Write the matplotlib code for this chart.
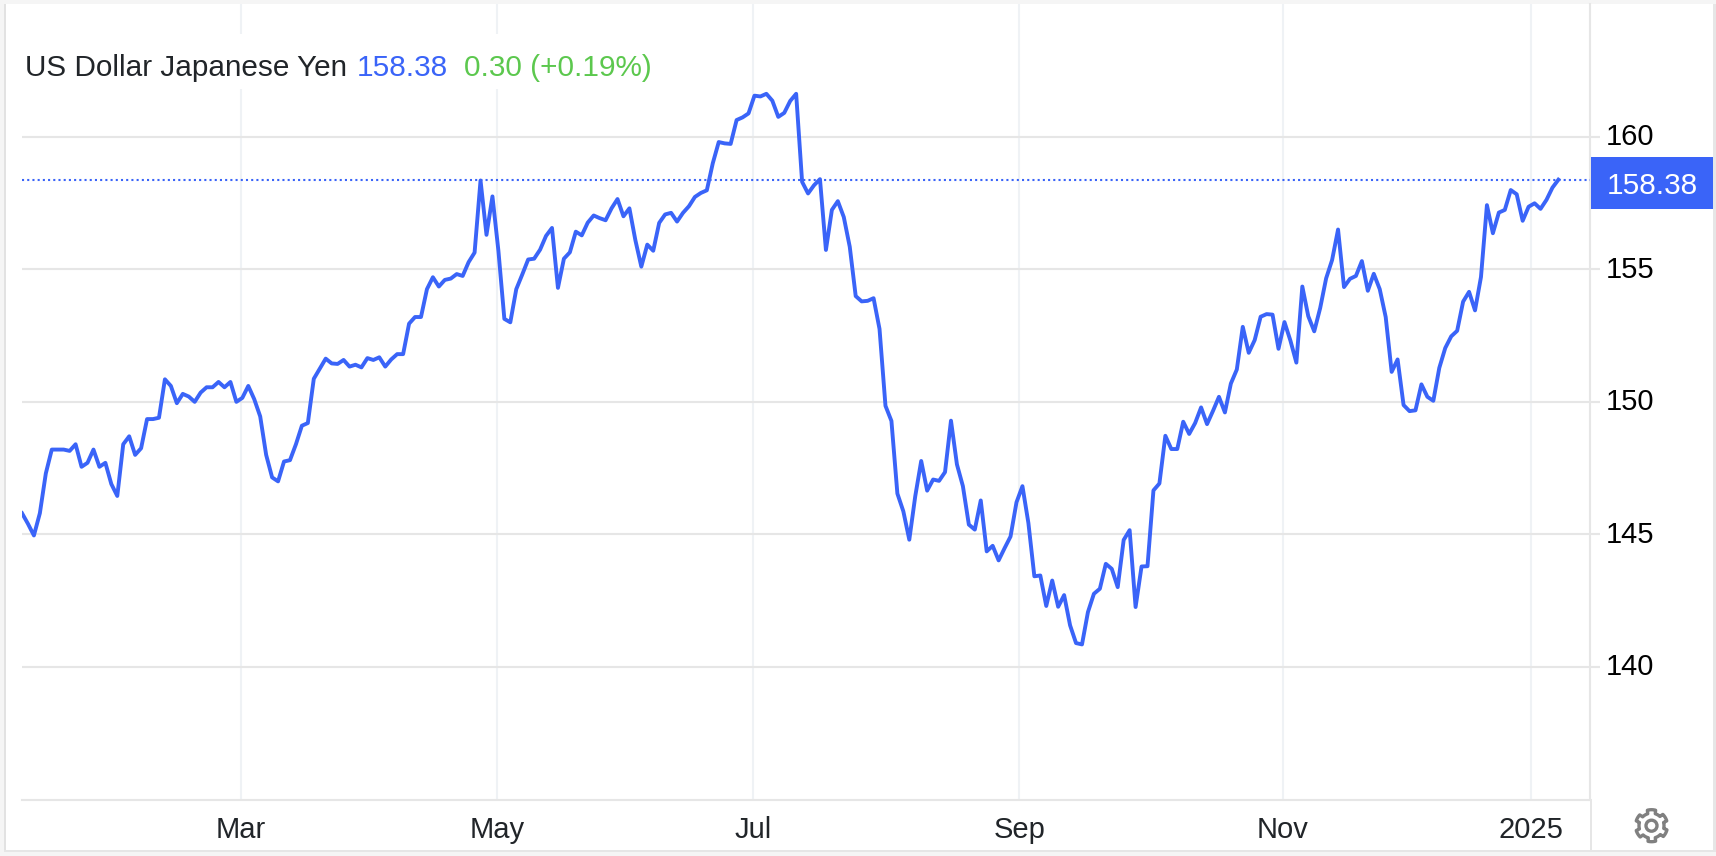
import numpy as np
import matplotlib
matplotlib.use("Agg")
import matplotlib.pyplot as plt
from matplotlib.patches import Rectangle, Polygon, Circle
from matplotlib.transforms import ScaledTranslation

plt.rcParams['font.family'] = ['Liberation Sans', 'DejaVu Sans']

BLUE = '#3a64f8'
GREEN = '#5cc84e'
GRID_H = '#e6e6e6'
GRID_V = '#eff2f5'
DARK = '#212529'

# daily close
usdjpy = [
	145.8, 145.4, 144.96, 145.8, 147.3, 148.2, 148.2, 148.2, 148.15, 148.4,
	147.55, 147.7, 148.2, 147.55, 147.7, 146.9, 146.45, 148.4, 148.7, 148.0,
	148.25, 149.35, 149.35, 149.4, 150.85, 150.6, 149.95, 150.3, 150.2, 150.0,
	150.35, 150.55, 150.55, 150.75, 150.55, 150.75, 150.0, 150.15, 150.6, 150.1,
	149.45, 148.0, 147.15, 147.0, 147.75, 147.8, 148.4, 149.1, 149.2,
	150.87, 151.25, 151.63, 151.45, 151.43, 151.58, 151.33, 151.4, 151.3, 151.65,
	151.58, 151.68, 151.33, 151.6, 151.8, 151.8, 152.95, 153.2, 153.2, 154.25,
	154.7, 154.35, 154.6, 154.65, 154.82, 154.75, 155.27, 155.63, 158.35, 156.3,
	157.75, 155.7, 153.13, 153.0, 154.25, 154.8,
	155.37, 155.4, 155.74, 156.26, 156.56, 154.3, 155.4, 155.64, 156.42, 156.28,
	156.76, 157.03, 156.93, 156.85, 157.3, 157.65, 157.0, 157.3, 156.1, 155.1,
	155.93, 155.7, 156.75, 157.07, 157.13, 156.8, 157.13, 157.38, 157.73, 157.88,
	157.98, 159.0, 159.8, 159.75, 159.73, 160.63, 160.73, 160.88, 161.55, 161.52,
	161.62, 161.36, 160.75, 160.9, 161.35, 161.62, 158.3, 157.86, 158.17, 158.4,
	155.73, 157.24, 157.57, 156.97, 155.85,
	153.99, 153.79, 153.81, 153.91, 152.75, 149.85, 149.28, 146.54, 145.87, 144.8,
	146.44, 147.77, 146.65, 147.07, 147.02, 147.35, 149.29, 147.64, 146.82, 145.37,
	145.18, 146.28, 144.36, 144.57, 144.02, 144.48, 144.92, 146.21, 146.82, 145.43,
	143.42, 143.45, 142.3, 143.26, 142.27, 142.71, 141.57, 140.9, 140.85, 142.07,
	142.76, 142.95, 143.89, 143.7, 143.01, 144.79, 145.16, 142.26, 143.79, 143.8,
	146.66, 146.92,
	148.72, 148.22, 148.22, 149.25, 148.79, 149.2, 149.79, 149.16, 149.66, 150.19,
	149.6, 150.69, 151.22, 152.83, 151.85, 152.33, 153.21, 153.31, 153.29, 152.0,
	153.01, 152.31, 151.48, 154.35, 153.23, 152.66, 153.54, 154.66, 155.35, 156.5,
	154.33, 154.64, 154.75, 155.31, 154.19, 154.83, 154.25, 153.2,
	151.13, 151.6, 149.88, 149.65, 149.68, 150.66, 150.19, 150.04, 151.28, 152.03,
	152.47, 152.68, 153.78, 154.15, 153.45, 154.71, 157.42, 156.36, 157.14, 157.24,
	157.99, 157.83, 156.83, 157.36, 157.49, 157.28, 157.62, 158.08, 158.38,
]
last_price = 158.38
month_pos = [36.7, 79.8, 122.8, 167.5, 211.7, 253.4]
month_names = ['Mar', 'May', 'Jul', 'Sep', 'Nov', '2025']
price_ticks = [140, 145, 150, 155, 160]

W, H = 1716, 856
fig = plt.figure(figsize=(W/100, H/100), dpi=100, facecolor='white')

# page chrome behind everything, in pixels
bg = fig.add_axes([0, 0, 1, 1], zorder=0)
bg.set_xlim(0, W)
bg.set_ylim(H, 0)
bg.axis('off')
bg.add_patch(Rectangle((0, 0), W, 4, color='#f5f5f5', lw=0))
bg.add_patch(Rectangle((0, 851), W, 5, color='#f5f5f5', lw=0))
bg.add_patch(Rectangle((0, 0), 3.5, H, color='#f5f5f5', lw=0))
bg.add_patch(Rectangle((3.5, 4), 2, 848, color='#e2e2e2', lw=0))
bg.add_patch(Rectangle((1713, 4), 3, 848, color='#e6e6e6', lw=0))
bg.add_patch(Rectangle((4, 849.5), 1710, 2, color='#e6e6e6', lw=0))
bg.add_patch(Rectangle((1589.5, 799), 2, 51, color='#e6e6e6', lw=0))

ax = fig.add_axes([22/W, (H-799.5)/H, 1568/W, (799.5-4.2)/H], zorder=1)
ax.patch.set_alpha(0)
ax.plot(range(len(usdjpy)), usdjpy, color=BLUE, lw=2.8, solid_joinstyle='round', zorder=4)
ax.axhline(last_price, color=BLUE, lw=1.5, ls=(0, (1.0, 1.5)), zorder=3)
ax.set_xlim(0, 1568/5.955)
ax.set_ylim(135, 165)
ax.set_xticks(month_pos)
ax.set_xticklabels(month_names, color=DARK)
ax.set_yticks(price_ticks)
ax.yaxis.tick_right()
ax.xaxis.grid(True, color=GRID_V, lw=1.5)
ax.yaxis.grid(True, color=GRID_H, lw=1.5)
ax.set_axisbelow(True)
ax.tick_params(axis='x', length=0, pad=12, labelsize=21)
ax.tick_params(axis='y', length=7.2, width=1.5, color=GRID_H, pad=4.5, labelsize=21, labelcolor='black')
for lab in ax.get_yticklabels():
	lab.set_transform(lab.get_transform() + ScaledTranslation(0, 2.5/100, fig.dpi_scale_trans))
for s in ['top', 'left']:
	ax.spines[s].set_visible(False)
ax.spines['right'].set_color(GRID_H)
ax.spines['right'].set_linewidth(1.5)
ax.spines['bottom'].set_color(GRID_H)
ax.spines['bottom'].set_linewidth(1.5)

# title, price badge and gear on top, in pixels
ui = fig.add_axes([0, 0, 1, 1], zorder=5)
ui.set_xlim(0, W)
ui.set_ylim(H, 0)
ui.axis('off')
ui.add_patch(Rectangle((22, 34), 640, 55, color='white', lw=0))
ui.text(25, 75.5, 'US Dollar Japanese Yen', color=DARK, fontsize=21.4, va='baseline')
ui.text(357, 75.5, '158.38', color=BLUE, fontsize=21.4, va='baseline')
ui.text(464, 75.5, '0.30 (+0.19%)', color=GREEN, fontsize=21.4, va='baseline')
ui.add_patch(Rectangle((1591, 157), 122, 51.5, color=BLUE, lw=0))
ui.text(1652, 186, '158.38', color='white', fontsize=21.4, ha='center', va='center')

# settings gear, six teeth with one pointing straight up
ang = np.linspace(0, 2*np.pi, 145)[:-1]
rad = np.where(((ang + np.pi/2 + np.pi/12) % (np.pi/3)) < np.pi/6, 16, 12.5)
gx = 1651.5 + rad*np.cos(ang)
gy = 825.7 + rad*np.sin(ang)
ui.add_patch(Polygon(np.column_stack([gx, gy]), closed=True, fc='none', ec='#808080', lw=2.4, joinstyle='round'))
ui.add_patch(Circle((1651.5, 825.7), 5.5, fc='none', ec='#808080', lw=2.4))

fig.savefig('out.png', dpi=100)
